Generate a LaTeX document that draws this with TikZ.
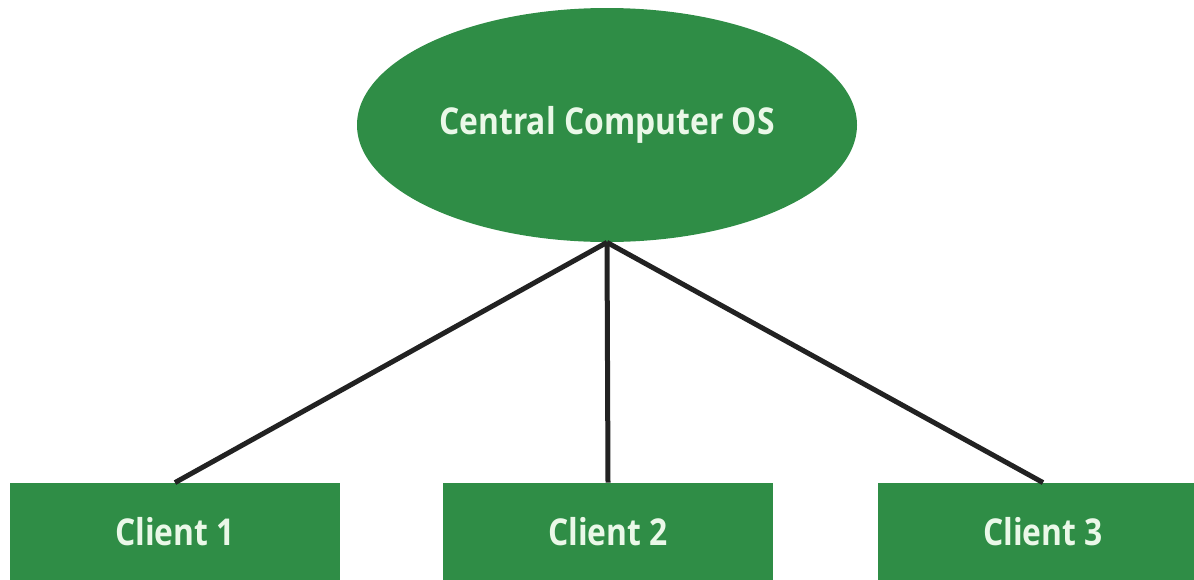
\documentclass[tikz,border=0pt]{standalone}
\usepackage{fontspec}
\setmainfont{Open Sans}[FakeStretch=0.86]
\usetikzlibrary{shapes.geometric}
\definecolor{gfgreen}{HTML}{2F8D46}
\definecolor{mint}{HTML}{EAF8E8}
\definecolor{wire}{HTML}{222222}
\tikzset{
  hub/.style={ellipse, fill=gfgreen, minimum width=250pt, minimum height=117pt,
    inner sep=0pt, text=mint, font=\bfseries\fontsize{18.5}{22}\selectfont},
  client/.style={rectangle, fill=gfgreen, minimum width=165pt, minimum height=49pt,
    inner sep=0pt, text=mint, font=\bfseries\fontsize{18.5}{22}\selectfont},
  wirestyle/.style={draw=wire, line width=2.5pt}
}
\begin{document}
\begin{tikzpicture}[x=0.5pt, y=-0.5pt]
  \useasboundingbox (0,0) rectangle (1194,579);
  \clip (0,0) rectangle (1194,579);
  \node[hub] (os) at (607,125) {\raisebox{4pt}{Central Computer OS}};
  \node[client] (c1) at (175,532) {Client 1};
  \node[client] (c2) at (608,532) {Client 2};
  \node[client] (c3) at (1043,532) {Client 3};
  \draw[wirestyle] (os.south) -- (c1.north);
  \draw[wirestyle] (os.south) -- (c2.north);
  \draw[wirestyle] (os.south) -- (c3.north);
\end{tikzpicture}
\end{document}
